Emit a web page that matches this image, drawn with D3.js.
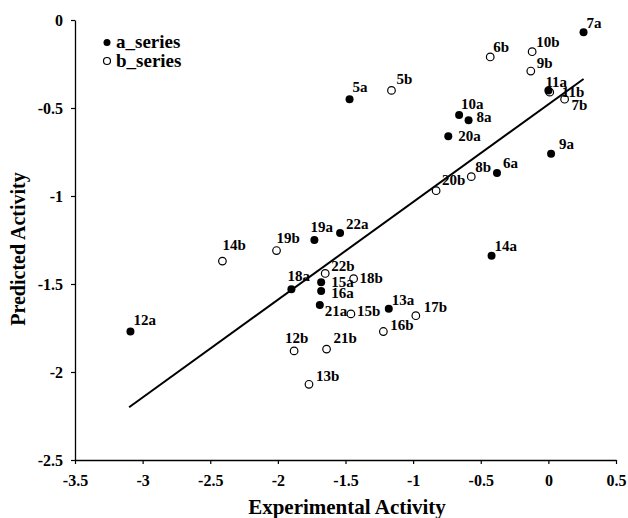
<!DOCTYPE html>
<html>
<head>
<meta charset="utf-8">
<script src="https://cdn.jsdelivr.net/npm/d3@7"></script>
<style>
  html, body { margin: 0; padding: 0; background: #fff; }
  svg { display: block; font-family: "Liberation Serif", "Times New Roman", serif; font-weight: bold; }
</style>
</head>
<body>
<svg id="chart" width="628" height="518"></svg>
<script>
// ---- data ----
const aLabels = ["5a","6a","7a","8a","9a","10a","11a","12a","13a","14a","15a","16a","18a","19a","20a","21a","22a"];
const aX = [-1.47, -0.38, 0.26, -0.59, 0.02, -0.66, 0.00, -3.09, -1.18, -0.42, -1.68, -1.68, -1.90, -1.73, -0.74, -1.69, -1.54];
const aY = [-0.45, -0.87, -0.07, -0.57, -0.76, -0.54, -0.40, -1.77, -1.64, -1.34, -1.49, -1.54, -1.53, -1.25, -0.66, -1.62, -1.21];

const bLabels = ["5b","6b","7b","8b","9b","10b","11b","12b","13b","14b","15b","16b","17b","18b","19b","20b","21b","22b"];
const bX = [-1.16, -0.43, 0.12, -0.57, -0.13, -0.12, 0.01, -1.88, -1.77, -2.41, -1.46, -1.22, -0.98, -1.44, -2.01, -0.83, -1.64, -1.65];
const bY = [-0.40, -0.21, -0.45, -0.89, -0.29, -0.18, -0.41, -1.88, -2.07, -1.37, -1.67, -1.77, -1.68, -1.47, -1.31, -0.97, -1.87, -1.44];

const fitX = [-3.10, 0.26];
const fitY = [-2.20, -0.335];

const xTicks = [-3.5, -3, -2.5, -2, -1.5, -1, -0.5, 0, 0.5];
const yTicks = [0, -0.5, -1, -1.5, -2, -2.5];
const xTitle = "Experimental Activity";
const yTitle = "Predicted Activity";
const seriesNames = ["a_series", "b_series"];

// ---- label placement (pixel offsets from the marker) ----
const aLabelOffset = {
  "5a":[3,-7],"6a":[6,-5],"7a":[3,-4],"8a":[8,2],"9a":[8,-5],"10a":[2,-6],"11a":[-3,-3],
  "12a":[3,-7],"13a":[3,-4],"14a":[3,-5],"15a":[10,5],"16a":[10,7],"18a":[-4,-8],
  "19a":[-4,-8],"20a":[10,5],"21a":[5,11],"22a":[6,-4]
};
const bLabelOffset = {
  "5b":[5,-6],"6b":[3,-5],"7b":[7,11],"8b":[4,-5],"9b":[6,-3],"10b":[4,-5],"11b":[12,5],
  "12b":[-9,-8],"13b":[7,-3],"14b":[0,-11],"15b":[6,2],"16b":[7,-2],"17b":[8,-4],
  "18b":[6,4],"19b":[0,-8],"20b":[6,-6],"21b":[7,-6],"22b":[6,-2]
};

// ---- layout ----
const svg = d3.select("#chart");
const mLeft = 75, mRight = 616, mTop = 20, mBottom = 460;

const x = d3.scaleLinear().domain([-3.5, 0.5]).range([mLeft, mRight]);
const y = d3.scaleLinear().domain([-2.5, 0]).range([mBottom, mTop]);

const fmt = d => String(d).replace("−", "-");

// x axis
const gx = svg.append("g").attr("transform", `translate(0,${mBottom})`)
  .call(d3.axisBottom(x).tickValues(xTicks).tickSize(4).tickSizeOuter(0).tickFormat(fmt));
gx.select(".domain").attr("stroke", "#000").attr("stroke-width", 1.3);
gx.selectAll(".tick line").attr("stroke", "#000").attr("stroke-width", 1.2);
gx.selectAll(".tick text").attr("font-family", "Liberation Serif").attr("font-weight", "bold")
  .attr("font-size", 16).attr("fill", "#000").attr("dy", null).attr("y", 26);

// y axis
const gy = svg.append("g").attr("transform", `translate(${mLeft},0)`)
  .call(d3.axisLeft(y).tickValues(yTicks).tickSize(4).tickSizeOuter(0).tickFormat(fmt));
gy.select(".domain").attr("stroke", "#000").attr("stroke-width", 1.3);
gy.selectAll(".tick line").attr("stroke", "#000").attr("stroke-width", 1.2);
gy.selectAll(".tick text").attr("font-family", "Liberation Serif").attr("font-weight", "bold")
  .attr("font-size", 16).attr("fill", "#000").attr("x", -12).attr("dy", "0.35em");

// axis titles
svg.append("text").attr("x", 347).attr("y", 514).attr("text-anchor", "middle")
  .attr("font-size", 21).attr("fill", "#000").text(xTitle);
svg.append("text").attr("transform", "translate(25,249) rotate(-90)").attr("text-anchor", "middle")
  .attr("font-size", 20).attr("fill", "#000").text(yTitle);

// regression line
svg.append("line")
  .attr("x1", x(fitX[0])).attr("y1", y(fitY[0]))
  .attr("x2", x(fitX[1])).attr("y2", y(fitY[1]))
  .attr("stroke", "#000").attr("stroke-width", 2);

// b series (open circles)
const bData = bLabels.map((l, i) => ({ l, x: bX[i], y: bY[i] }));
svg.append("g").selectAll("circle").data(bData).join("circle")
  .attr("cx", d => x(d.x)).attr("cy", d => y(d.y)).attr("r", 3.8)
  .attr("fill", "#fff").attr("stroke", "#000").attr("stroke-width", 1.2);

// a series (filled dots)
const aData = aLabels.map((l, i) => ({ l, x: aX[i], y: aY[i] }));
svg.append("g").selectAll("circle").data(aData).join("circle")
  .attr("cx", d => x(d.x)).attr("cy", d => y(d.y)).attr("r", 4)
  .attr("fill", "#000");

// point labels
svg.append("g").selectAll("text").data(aData).join("text")
  .attr("x", d => x(d.x) + aLabelOffset[d.l][0]).attr("y", d => y(d.y) + aLabelOffset[d.l][1])
  .attr("font-size", 15).attr("fill", "#000").text(d => d.l);
svg.append("g").selectAll("text").data(bData).join("text")
  .attr("x", d => x(d.x) + bLabelOffset[d.l][0]).attr("y", d => y(d.y) + bLabelOffset[d.l][1])
  .attr("font-size", 15).attr("fill", "#000").text(d => d.l);

// legend
const legend = svg.append("g");
legend.append("circle").attr("cx", 107).attr("cy", 42.5).attr("r", 3.5).attr("fill", "#000");
legend.append("circle").attr("cx", 107).attr("cy", 61).attr("r", 3.5).attr("fill", "#fff")
  .attr("stroke", "#000").attr("stroke-width", 1.2);
legend.append("text").attr("x", 116).attr("y", 48).attr("font-size", 19).attr("fill", "#000").text(seriesNames[0]);
legend.append("text").attr("x", 116).attr("y", 67).attr("font-size", 19).attr("fill", "#000").text(seriesNames[1]);
</script>
</body>
</html>
